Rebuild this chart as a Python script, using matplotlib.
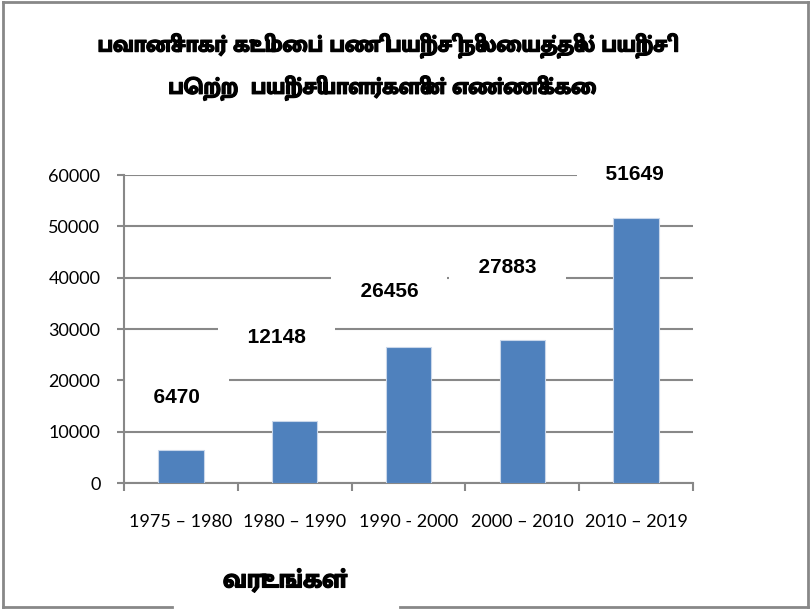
import os
import matplotlib
matplotlib.use('Agg')
import matplotlib.pyplot as plt
from matplotlib.lines import Line2D
from matplotlib.font_manager import FontProperties
import matplotlib.patheffects as pe

years = ['1975 – 1980', '1980 – 1990', '1990 - 2000', '2000 – 2010', '2010 – 2019']
trainees = [6470, 12148, 26456, 27883, 51649]
# where the data labels sit (x in categories, y in data units)
label_x = [-0.04, 0.84, 1.83, 2.87, 3.99]
label_y = [16600, 28400, 37400, 41900, 60100]

title = 'பவானிசாகர் குடிமைப் பணி பயிற்சி நிலையத்தில் பயிற்சி\nபெற்ற  பயிற்சியாளர்களின் எண்ணிக்கை'
xlab = 'வருடங்கள்'

gray = '#888888'
blue = '#4F81BD'

tamil_bold = '/usr/share/fonts/truetype/google-fonts/MuktaMalar-ExtraBold.ttf'
if os.path.exists(tamil_bold):
    tfont = lambda size: FontProperties(fname=tamil_bold, size=size)
else:
    tfont = lambda size: FontProperties(family=['Mukta Malar', 'DejaVu Sans'], weight='heavy', size=size)
thick = [pe.withStroke(linewidth=0.8, foreground='black')]

fig = plt.figure(figsize=(8.11, 6.09), dpi=100)
ax = fig.add_axes([124/811, 1-483/609, (693-124)/811, (483-175)/609])

x = list(range(len(years)))
ax.bar(x, trainees, width=0.4, color=blue, edgecolor='#c9d7ea', linewidth=0.8, zorder=3)

for xi, yi, v in zip(label_x, label_y, trainees):
    ax.text(xi, yi, '  %d  ' % v, ha='center', va='center', fontsize=15, fontweight='bold',
            family='Liberation Sans', zorder=2,
            bbox=dict(boxstyle='square,pad=0.85', facecolor='white', edgecolor='none'))

ax.set_xlim(-0.5, len(years) - 0.5)
ax.set_ylim(0, 60000)
ax.set_yticks(range(0, 60001, 10000))
ax.set_xticks([i - 0.5 for i in range(len(years) + 1)])
ax.set_xticklabels([])
ax.set_xticks(x, minor=True)
ax.set_xticklabels(years, minor=True, family='Lato', fontsize=13)
ax.tick_params(axis='x', which='major', direction='out', length=6, width=1.5, color=gray)
ax.tick_params(axis='x', which='minor', length=0, pad=22)
ax.tick_params(axis='y', direction='out', length=5, width=1.5, color=gray, pad=12, labelsize=13)
for lab in ax.get_yticklabels():
    lab.set_family('Lato')

ax.yaxis.grid(True, color=gray, linewidth=1.5, zorder=0)
ax.set_axisbelow(True)
for s in ['top', 'right']:
    ax.spines[s].set_visible(False)
for s in ['left', 'bottom']:
    ax.spines[s].set_color(gray)
    ax.spines[s].set_linewidth(1.5)

fig.text(382/811, 1-67/609, title, ha='center', va='center', fontproperties=tfont(16.5),
         linespacing=1.9, path_effects=thick)
fig.text(285/811, 1-581/609, xlab, ha='center', va='center', fontproperties=tfont(19),
         path_effects=thick)

# outer frame, bottom edge broken under the axis title
W, H = 811.0, 609.0
frame = [([3, 3], [2, 607]), ([3, 808], [2, 2]), ([808, 808], [2, 607]),
         ([3, 172], [607, 607]), ([400, 808], [607, 607])]
for fx, fy in frame:
    fig.add_artist(Line2D([v / W for v in fx], [1 - v / H for v in fy], color=gray, linewidth=2))

fig.savefig('out.png', dpi=100)
